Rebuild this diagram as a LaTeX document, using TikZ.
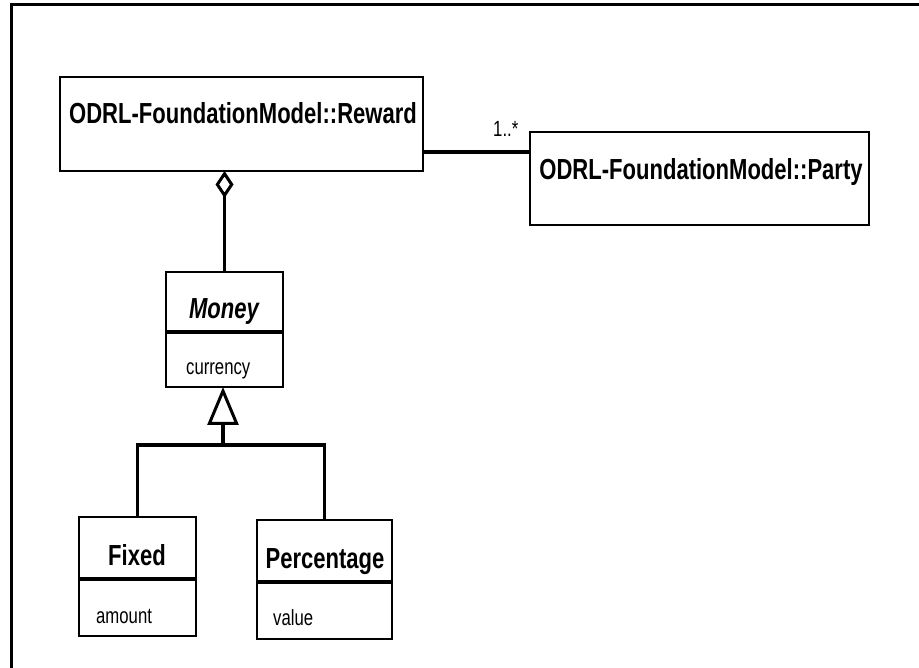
\documentclass[tikz,border=0pt]{standalone}
\usepackage{fontspec}
\newfontfamily\umlfont{Liberation Sans}[FakeStretch=0.76]
\usepackage{tikz}
\usetikzlibrary{arrows.meta}

\begin{document}
\begin{tikzpicture}[x=1pt, y=-1pt,
    classbox/.style={draw, line width=2.8pt, outer sep=0pt, inner sep=0pt},
    classname/.style={anchor=base, inner sep=0pt, font=\umlfont\bfseries\fontsize{29}{34}\selectfont},
    attrname/.style={anchor=base west, inner sep=0pt, font=\umlfont\fontsize{22}{26}\selectfont},
    link/.style={line width=3.4pt},
    sep/.style={line width=3.2pt}]
  \useasboundingbox (0,0) rectangle (919,668);
  \draw[line width=3pt] (11,668) -- (11,5) -- (919,5);
  % classes
  \node (reward) at (241.5,124) [classbox, minimum width=363pt, minimum height=94pt] {};
  \node (rewardname) at (243,124) [classname] {ODRL-FoundationModel::Reward};
  \node (party) at (699.5,178.5) [classbox, minimum width=339pt, minimum height=93pt] {};
  \node (partyname) at (701,180) [classname] {ODRL-FoundationModel::Party};
  \node (money) at (224.5,329.5) [classbox, minimum width=117pt, minimum height=115pt] {};
  \node (moneyname) at (224,319) [classname] {\itshape Money};
  \draw[sep] (money.west |- 0,332) -- (money.east |- 0,332);
  \node (currency) at (186,375) [attrname] {currency};
  \node (fixed) at (137.5,576.5) [classbox, minimum width=117pt, minimum height=119pt] {};
  \node (fixedname) at (137,565) [classname] {Fixed};
  \draw[sep] (fixed.west |- 0,579) -- (fixed.east |- 0,579);
  \node (amount) at (96,623) [attrname] {amount};
  \node (percentage) at (324.5,579.5) [classbox, minimum width=135pt, minimum height=119pt] {};
  \node (percentagename) at (325,568) [classname] {Percentage};
  \draw[sep] (percentage.west |- 0,582) -- (percentage.east |- 0,582);
  \node (value) at (273,625) [attrname] {value};
  % associations
  \draw[link, -{Diamond[open, length=27pt, width=18pt, line width=3pt]}] (money.north) -- (money.north |- reward.south);
  \draw[link] (reward.east |- 0,152) -- (party.west |- 0,152);
  \node (mult) at (493,137) [attrname] {1..*};
  % generalization
  \coordinate (fork) at (223,445);
  \draw[link] (fixed.north) |- (fork) -| (percentage.north);
  \draw[link, -{Triangle[open, length=38pt, width=31pt, line width=3pt]}] (fork) -- (fork |- money.south);
\end{tikzpicture}
\end{document}
